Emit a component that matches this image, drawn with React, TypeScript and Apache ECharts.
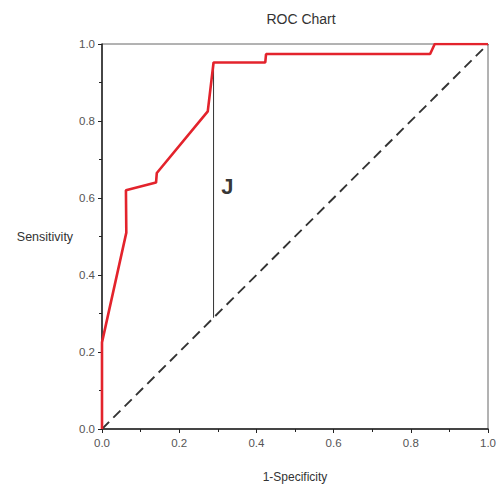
import React, { useEffect, useRef } from "react";
import * as echarts from "echarts";

const rocFpr = [0, 0, 0.063, 0.062, 0.14, 0.142, 0.274, 0.289, 0.423, 0.425, 0.85, 0.862, 1.0];
const rocTpr = [0, 0.225, 0.51, 0.62, 0.64, 0.665, 0.825, 0.952, 0.952, 0.974, 0.974, 1.0, 1.0];
const diagonal = [[0, 0], [1, 1]];
const youdenX = 0.289;
const youdenLow = 0.289;
const youdenHigh = 0.952;
const jLabelPos = [0.325, 0.63];
const tickLabels = ["0.0", "0.2", "0.4", "0.6", "0.8", "1.0"];

export default function App() {
  const ref = useRef<HTMLDivElement>(null);
  useEffect(() => {
    const chart = echarts.init(ref.current!, null, { renderer: "svg" });
    const font = "Liberation Sans, Arial, sans-serif";
    const axisCommon = {
      type: "value",
      min: 0,
      max: 1,
      interval: 0.2,
      axisLine: { show: true, lineStyle: { color: "#222", width: 1.5 } },
      axisTick: { show: true, length: 4, lineStyle: { color: "#222" } },
      minorTick: { show: true, splitNumber: 2, length: 3, lineStyle: { color: "#222" } },
      splitLine: { show: false },
      axisLabel: {
        color: "#555",
        fontSize: 11.5,
        fontFamily: font,
        formatter: (v: number) => tickLabels[Math.round(v * 5)] ?? "",
      },
      nameTextStyle: { color: "#333", fontSize: 12, fontFamily: font },
    };
    chart.setOption({
      animation: false,
      title: {
        text: "ROC Chart",
        left: 296,
        top: 7,
        textAlign: "center",
        textStyle: { color: "#333", fontSize: 14, fontWeight: "normal", fontFamily: font },
      },
      grid: {
        left: 102,
        right: 7,
        top: 44,
        bottom: 56,
        show: true,
        borderColor: "#666",
        borderWidth: 1,
      },
      xAxis: {
        ...axisCommon,
        name: "1-Specificity",
        nameLocation: "middle",
        nameGap: 42,
        axisLabel: { ...axisCommon.axisLabel, margin: 8 },
      },
      yAxis: {
        ...axisCommon,
        name: "Sensitivity",
        nameLocation: "middle",
        nameRotate: 0,
        nameGap: 25,
        nameTextStyle: { ...axisCommon.nameTextStyle, align: "right", fontSize: 12.5 },
        axisLabel: { ...axisCommon.axisLabel, margin: 7 },
      },
      series: [
        {
          type: "line",
          data: diagonal,
          symbol: "none",
          lineStyle: { color: "#333", width: 1.9, type: [10, 6] },
          z: 2,
        },
        {
          type: "line",
          data: [[youdenX, youdenLow], [youdenX, youdenHigh]],
          symbol: "none",
          lineStyle: { color: "#333", width: 1 },
          z: 3,
        },
        {
          type: "line",
          data: rocFpr.map((x, i) => [x, rocTpr[i]]),
          symbol: "none",
          lineStyle: { color: "#e3232c", width: 2.6 },
          z: 4,
        },
        {
          type: "scatter",
          data: [jLabelPos],
          symbolSize: 0,
          label: {
            show: true,
            formatter: "J",
            position: "inside",
            color: "#000",
            fontSize: 22,
            fontWeight: "bold",
            fontFamily: font,
          },
          z: 5,
        },
      ],
    });
    return () => chart.dispose();
  }, []);
  return (
    <div
      ref={ref}
      style={{ position: "absolute", left: 0, top: 0, width: 499, height: 488 }}
    />
  );
}
